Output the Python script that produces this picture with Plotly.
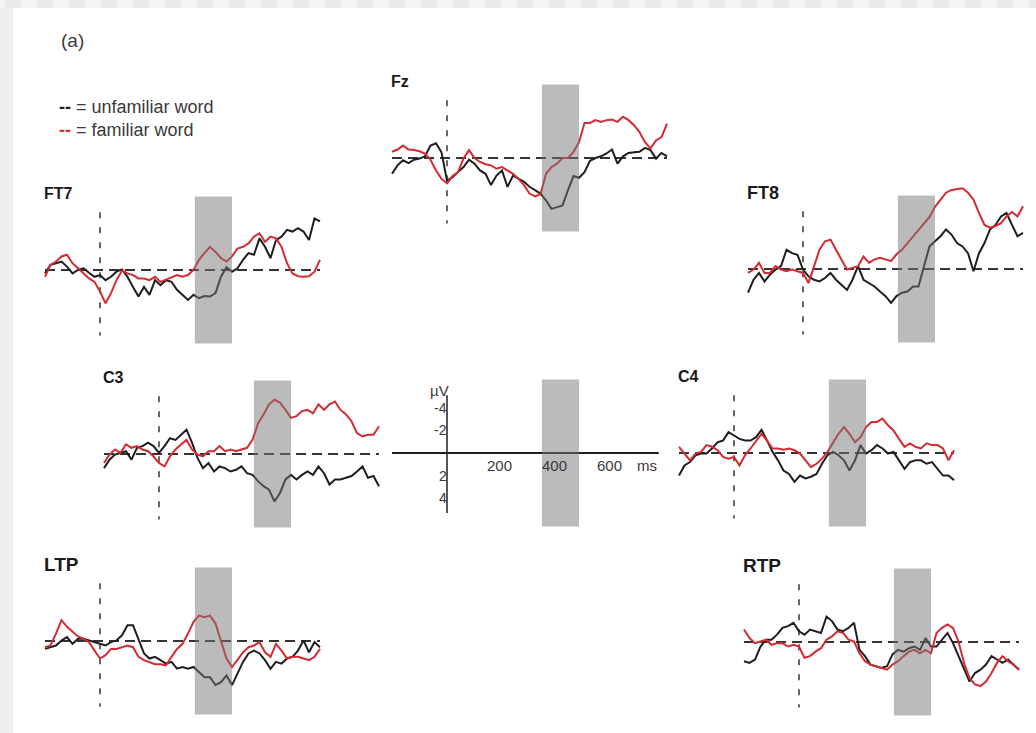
import plotly.graph_objects as go

# ---------------------------------------------------------------------------
# ERP averages (µV, negative plotted upward) sampled every 20 ms, -200..800 ms
# ---------------------------------------------------------------------------
TIME_MS = list(range(-200, 801, 20))

FZ_UNFAMILIAR = [1.4, 0.65, 0.2, 0.45, 0.15, 0.05, -0.15, -1.1, -1.3, -0.5,
                 2.0, 1.7, 1.25, 0.8, 0.15, 0.5, 1.1, 1.4, 2.4, 1.55,
                 1.1, 2.55, 1.55, 1.85, 2.1, 2.55, 2.85, 3.15, 3.75, 4.5,
                 4.35, 4.2, 2.85, 1.6, 1.75, 1.25, 0.25, 0.0, -0.15, -0.4,
                 -0.75, 0.5, -0.15, -0.45, -0.5, -0.55, -0.9, -0.7, 0.05, -0.45,
                 -0.15]
FZ_FAMILIAR = [-0.55, -0.75, -1.1, -0.75, -0.7, -0.6, -0.4, 0.15, 1.1, 1.85,
               2.25, 1.6, 1.25, 0.05, -0.7, 0.0, 0.35, 0.55, 0.65, 0.95,
               0.8, 1.1, 1.4, 1.85, 2.4, 3.15, 3.4, 3.2, 1.4, 0.8,
               0.5, 0.0, 0.0, -0.55, -1.4, -3.1, -3.1, -3.35, -3.2, -3.35,
               -3.4, -3.2, -3.65, -3.35, -2.9, -2.3, -1.4, -0.85, -1.55, -1.85,
               -3.05]

FT7_UNFAMILIAR = [0.3, -0.45, -0.6, -0.75, -0.3, 0.3, 0.0, -0.15, 0.25, 0.6,
                  0.45, 0.9, 0.6, 0.15, -0.05, 0.6, 1.5, 2.35, 1.5, 2.2,
                  0.9, 1.35, 0.9, 1.05, 1.75, 2.2, 2.65, 2.2, 2.5, 2.3,
                  2.35, 2.05, 0.6, -0.25, 0.15, -0.15, -0.9, -1.5, -1.35, -2.8,
                  -2.05, -1.05, -2.65, -2.95, -3.55, -3.4, -3.7, -3.4, -2.65, -4.55,
                  -4.3]
FT7_FAMILIAR = [0.6, -0.45, -0.75, -1.2, -1.35, -0.6, -0.15, 0.3, 0.75, 1.05,
                1.9, 2.95, 2.05, 0.9, 0.05, 0.3, 0.45, 0.75, 0.75, 0.9,
                0.6, 1.05, 0.85, 0.6, 0.45, 0.6, 0.45, 0.0, -0.9, -1.5,
                -2.05, -1.6, -1.05, -0.75, -1.2, -1.9, -2.05, -2.35, -2.95, -3.25,
                -2.5, -2.95, -2.8, -2.05, -0.6, 0.3, 0.55, 0.6, 0.55, 0.15,
                -0.9]

FT8_UNFAMILIAR = [2.1, 0.95, 0.35, 1.1, 0.5, 0.05, -0.25, -1.7, -1.4, -1.25,
                  0.05, 0.65, 0.95, 1.1, 0.8, 0.35, 0.95, 1.4, 1.85, 0.95,
                  -0.25, 0.95, 1.25, 1.55, 2.0, 2.4, 3.0, 2.4, 2.1, 2.0,
                  1.55, 1.55, -0.25, -2.0, -2.45, -2.9, -3.5, -3.05, -2.3, -2.0,
                  -1.4, 0.2, -1.4, -2.3, -3.5, -3.9, -4.65, -4.95, -3.9, -2.9,
                  -3.2]
FT8_FAMILIAR = [0.35, 0.05, -0.55, 0.35, 0.35, -0.25, 0.05, 0.2, 0.05, 0.2,
                0.35, 1.25, -0.25, -1.7, -2.45, -2.6, -1.7, -0.85, 0.05, -0.1,
                -0.25, -1.1, -0.55, -0.85, -1.0, -0.85, -0.7, -1.3, -1.7, -2.3,
                -2.9, -3.5, -4.0, -4.6, -5.5, -6.15, -6.75, -7.0, -7.05, -7.15,
                -6.75, -6.15, -4.95, -3.9, -3.65, -3.8, -4.05, -4.65, -5.05, -4.65,
                -5.55]

C3_UNFAMILIAR = [1.25, 0.5, 0.05, -0.1, -0.25, 0.5, -0.55, -0.7, -1.0, -0.7,
                 -0.1, -0.7, -1.4, -1.25, -1.7, -2.15, -1.0, 0.35, 1.25, 0.8,
                 1.55, 1.1, 1.25, 1.55, 1.4, 1.1, 1.7, 1.85, 2.4, 2.85,
                 3.15, 4.2, 3.45, 2.25, 1.85, 2.25, 1.85, 1.55, 1.85, 1.1,
                 1.7, 2.7, 2.25, 2.25, 2.1, 1.95, 1.55, 1.1, 2.1, 1.95,
                 2.85]
C3_FAMILIAR = [0.8, 0.05, -0.4, -0.1, -0.85, -0.55, -0.7, -0.4, -0.25, 0.2,
               0.8, 1.1, 0.2, -0.4, -0.85, -1.25, -0.4, 0.05, 0.2, -0.25,
               -0.25, -0.7, -0.25, -0.4, -0.25, -0.4, -0.55, -1.25, -2.7, -3.5,
               -4.4, -4.8, -4.55, -3.9, -3.2, -3.35, -3.8, -3.9, -3.6, -4.4,
               -3.9, -4.4, -4.65, -3.9, -3.5, -2.9, -1.85, -1.55, -1.7, -1.7,
               -2.45]

C4_UNFAMILIAR = [2.0, 1.1, 0.8, 0.2, 0.05, 0.05, -0.4, -0.95, -1.1, -1.85,
                 -1.55, -1.25, -1.1, -1.1, -1.4, -2.05, -1.1, -0.1, 0.65, 1.55,
                 1.85, 2.55, 2.0, 2.25, 2.1, 1.85, 0.95, 0.2, -0.1, 0.2,
                 0.65, 1.55, 0.65, -0.7, 0.05, -0.25, -0.7, -0.4, 0.05, -0.1,
                 0.65, 1.4, 0.8, 0.65, 0.65, 0.95, 0.8, 1.4, 2.0, 2.0,
                 2.4]
C4_FAMILIAR = [-0.55, 0.05, 0.65, 0.05, -0.1, -0.7, -0.55, -0.25, 0.35, 0.5,
               0.35, 1.1, 0.2, -0.4, -1.1, -1.7, -1.1, -0.4, -0.4, -0.3,
               -0.4, -0.25, 0.05, 0.65, 1.25, 0.95, 0.5, -0.1, -0.85, -1.7,
               -2.3, -1.7, -0.95, -1.4, -2.3, -2.75, -2.75, -3.05, -2.45, -2.0,
               -1.25, -0.55, -0.85, -0.55, -0.4, -0.85, -0.7, -0.7, -0.4, 0.65,
               -0.25]

LTP_UNFAMILIAR = [0.7, 0.55, 0.4, -0.05, -0.35, 0.25, -0.2, -0.2, -0.05, 0.1,
                  0.25, 0.4, 0.1, -0.05, -0.5, -1.4, -1.4, -0.2, 1.1, 1.55,
                  1.4, 1.7, 2.0, 1.85, 2.45, 2.3, 2.45, 2.3, 2.75, 3.2,
                  3.2, 3.9, 3.65, 3.05, 3.9, 2.9, 1.85, 1.1, 0.85, 1.1,
                  1.7, 2.45, 1.85, 2.0, 1.55, 1.4, 0.85, -0.05, 1.0, 0.1,
                  0.55]
LTP_FAMILIAR = [0.55, 0.4, -0.65, -1.85, -1.25, -0.8, -0.4, -0.2, 0.1, 0.85,
                1.55, 1.25, 0.7, 0.7, 0.55, 0.4, 0.55, 1.4, 1.7, 1.85,
                2.05, 2.05, 2.15, 1.4, 0.7, 0.25, -0.65, -1.7, -2.25, -2.1,
                -2.25, -1.55, -0.05, 1.55, 2.3, 1.7, 1.0, 0.55, 0.4, 0.1,
                1.0, 1.4, 0.25, 0.85, 1.55, 1.4, 1.4, 1.55, 1.7, 1.4,
                0.7]

RTP_UNFAMILIAR = [1.7, 1.85, 1.55, 0.4, -0.2, -0.2, -0.65, -1.25, -1.4, -1.7,
                  -0.95, -0.65, -1.1, -0.95, -0.8, -2.25, -1.85, -1.1, -0.95, -1.25,
                  -1.7, 0.7, 1.25, 2.0, 2.15, 2.3, 2.15, 1.1, 0.7, 0.85,
                  0.55, 0.4, 0.7, -0.35, 0.4, 0.4, -0.2, -0.8, 0.1, 1.25,
                  2.45, 3.5, 2.75, 2.45, 2.0, 1.25, 1.55, 1.85, 1.55, 2.0,
                  2.45]
RTP_FAMILIAR = [-1.1, -0.35, 0.1, -0.05, -0.2, 0.25, 0.1, 0.1, 0.4, 0.25,
                0.4, 1.4, 1.25, 0.85, 0.55, -0.2, -0.5, -0.95, -0.8, -0.2,
                -0.05, 1.0, 1.7, 2.0, 2.15, 2.3, 2.45, 2.0, 1.7, 1.25,
                0.85, 0.7, 1.0, 0.7, 1.0, -0.8, -1.25, -1.55, -1.25, -0.05,
                1.85, 3.2, 3.75, 3.9, 3.5, 2.75, 1.85, 1.25, 1.7, 2.0,
                2.45]

ELECTRODES = ["Fz", "FT7", "FT8", "C3", "C4", "LTP", "RTP"]
UNFAMILIAR = [FZ_UNFAMILIAR, FT7_UNFAMILIAR, FT8_UNFAMILIAR, C3_UNFAMILIAR,
              C4_UNFAMILIAR, LTP_UNFAMILIAR, RTP_UNFAMILIAR]
FAMILIAR = [FZ_FAMILIAR, FT7_FAMILIAR, FT8_FAMILIAR, C3_FAMILIAR,
            C4_FAMILIAR, LTP_FAMILIAR, RTP_FAMILIAR]

# analysis window and reference lines
WINDOW_MS = (345, 480)
WINDOW_UV = (-6.5, 6.5)
EPOCH_MS = (-200, 800)
ONSET_UV = (-5.1, 5.8)

# calibration axes
SCALE_X_MS = (-200, 770)
SCALE_Y_UV = (-5.1, 5.3)
SCALE_X_TICKS = [200, 400, 600]
SCALE_Y_TICKS = [-4, -2, 2, 4]

# ---------------------------------------------------------------------------
# page geometry
# ---------------------------------------------------------------------------
W, H = 1036, 733
PX_MS, PX_UV = 0.275, 11.3          # pixels per ms / per µV
X_RANGE = (-230, 820)
Y_LIM = 7.6
FONT = "Liberation Sans, Arial, sans-serif"

# pixel position of (0 ms, 0 µV) for each panel; last entry is the scale
ORIGINS = {"Fz": (447, 158), "FT7": (100, 270), "FT8": (803, 269),
           "C3": (159, 454), "C4": (734, 453), "LTP": (100, 641),
           "RTP": (799, 642), "scale": (447, 453)}
LABEL_SIZE = {"Fz": 16, "FT7": 16, "FT8": 18, "C3": 16, "C4": 16,
              "LTP": 19, "RTP": 19}

BLACK = "#1e1e1e"
RED = "#d42a32"
DASH_GRAY = "#333333"
BAND = "rgba(120,120,120,0.5)"
TEXT_GRAY = "#3a3a3a"

fig = go.Figure()
layout = dict(width=W, height=H, margin=dict(l=0, r=0, t=0, b=0),
              paper_bgcolor="white", plot_bgcolor="rgba(0,0,0,0)",
              showlegend=False, font=dict(family=FONT, color="#222"))
shapes, annotations = [], []


def add_axes(idx, key):
    x0, y0 = ORIGINS[key]
    xl = x0 + X_RANGE[0] * PX_MS
    xr = x0 + X_RANGE[1] * PX_MS
    yt = y0 - Y_LIM * PX_UV
    yb = y0 + Y_LIM * PX_UV
    sfx = "" if idx == 1 else str(idx)
    layout["xaxis" + sfx] = dict(domain=[xl / W, xr / W], range=list(X_RANGE),
                                 visible=False, fixedrange=True,
                                 anchor="y" + sfx)
    layout["yaxis" + sfx] = dict(domain=[1 - yb / H, 1 - yt / H],
                                 range=[Y_LIM, -Y_LIM], visible=False,
                                 fixedrange=True, anchor="x" + sfx)
    return "x" + sfx, "y" + sfx


for i, name in enumerate(ELECTRODES, start=1):
    xa, ya = add_axes(i, name)
    # zero-voltage baseline
    fig.add_trace(go.Scatter(x=list(EPOCH_MS), y=[0, 0], xaxis=xa, yaxis=ya,
                             mode="lines", hoverinfo="skip",
                             line=dict(color=DASH_GRAY, width=1.8,
                                       dash="10px,6px")))
    # stimulus onset
    fig.add_trace(go.Scatter(x=[0, 0], y=list(ONSET_UV), xaxis=xa, yaxis=ya,
                             mode="lines", hoverinfo="skip",
                             line=dict(color=DASH_GRAY, width=1.5,
                                       dash="6px,9px")))
    fig.add_trace(go.Scatter(x=TIME_MS, y=UNFAMILIAR[i - 1], xaxis=xa,
                             yaxis=ya, mode="lines", name="unfamiliar word",
                             line=dict(color=BLACK, width=2)))
    fig.add_trace(go.Scatter(x=TIME_MS, y=FAMILIAR[i - 1], xaxis=xa,
                             yaxis=ya, mode="lines", name="familiar word",
                             line=dict(color=RED, width=2)))
    shapes.append(dict(type="rect", xref=xa, yref=ya,
                       x0=WINDOW_MS[0], x1=WINDOW_MS[1],
                       y0=WINDOW_UV[0], y1=WINDOW_UV[1],
                       fillcolor=BAND, line=dict(width=0), layer="above"))
    annotations.append(dict(xref=xa, yref=ya, x=EPOCH_MS[0], y=-6.75,
                            text="<b>%s</b>" % name, showarrow=False,
                            xanchor="left", yanchor="middle", xshift=-3,
                            font=dict(size=LABEL_SIZE[name], color="#1a1a1a")))

# calibration panel
xa, ya = add_axes(len(ELECTRODES) + 1, "scale")
fig.add_trace(go.Scatter(x=list(SCALE_X_MS), y=[0, 0], xaxis=xa, yaxis=ya,
                         mode="lines", hoverinfo="skip",
                         line=dict(color=BLACK, width=2)))
fig.add_trace(go.Scatter(x=[0, 0], y=list(SCALE_Y_UV), xaxis=xa, yaxis=ya,
                         mode="lines", hoverinfo="skip",
                         line=dict(color=BLACK, width=1.5)))
shapes.append(dict(type="rect", xref=xa, yref=ya,
                   x0=WINDOW_MS[0], x1=WINDOW_MS[1],
                   y0=WINDOW_UV[0], y1=WINDOW_UV[1],
                   fillcolor=BAND, line=dict(width=0), layer="above"))
for t in SCALE_X_TICKS:
    annotations.append(dict(xref=xa, yref=ya, x=t, y=0, text=str(t),
                            showarrow=False, xanchor="center", yanchor="top",
                            xshift=-3, yshift=-2,
                            font=dict(size=15, color=TEXT_GRAY)))
for v in SCALE_Y_TICKS:
    annotations.append(dict(xref=xa, yref=ya, x=0, y=v, text=str(v),
                            showarrow=False, xanchor="right", yanchor="middle",
                            xshift=2, font=dict(size=14, color=TEXT_GRAY)))
annotations.append(dict(xref=xa, yref=ya, x=0, y=SCALE_Y_UV[0], text="µV",
                        showarrow=False, xanchor="right", yanchor="bottom",
                        xshift=4, yshift=-6, font=dict(size=15, color=TEXT_GRAY)))
annotations.append(dict(xref=xa, yref=ya, x=SCALE_X_MS[1], y=0, text="ms",
                        showarrow=False, xanchor="right", yanchor="top",
                        xshift=0, yshift=-2, font=dict(size=15, color=TEXT_GRAY)))

# figure tag and key
annotations.append(dict(xref="paper", yref="paper", x=59 / W, y=1 - 41 / H,
                        text="(a)", showarrow=False, xanchor="left",
                        yanchor="middle", font=dict(size=19, color=TEXT_GRAY)))
annotations.append(dict(xref="paper", yref="paper", x=57 / W, y=1 - 107 / H,
                        text="<span style='color:%s'><b>--</b></span> "
                             "= unfamiliar word" % BLACK,
                        showarrow=False, xanchor="left", yanchor="middle",
                        font=dict(size=18, color=TEXT_GRAY)))
annotations.append(dict(xref="paper", yref="paper", x=57 / W, y=1 - 130 / H,
                        text="<span style='color:%s'><b>--</b></span> "
                             "= familiar word" % RED,
                        showarrow=False, xanchor="left", yanchor="middle",
                        font=dict(size=18, color=TEXT_GRAY)))

# page frame: grey margin strip on the left and banded strip along the top
shapes.append(dict(type="rect", xref="paper", yref="paper", x0=0, x1=13 / W,
                   y0=0, y1=1, fillcolor="#efefef", line=dict(width=0),
                   layer="below"))
k = -1
while 5 + 16 * k < W:
    left = max(0, 5 + 16 * k)
    right = min(W, 21 + 16 * k)
    shapes.append(dict(type="rect", xref="paper", yref="paper",
                       x0=left / W, x1=right / W, y0=1 - 8 / H, y1=1,
                       fillcolor="#e9e9e9" if k % 2 == 0 else "#f4f4f4",
                       line=dict(width=0), layer="below"))
    k += 1

layout["shapes"] = shapes
layout["annotations"] = annotations
fig.update_layout(**layout)
fig.write_html("out.html")
